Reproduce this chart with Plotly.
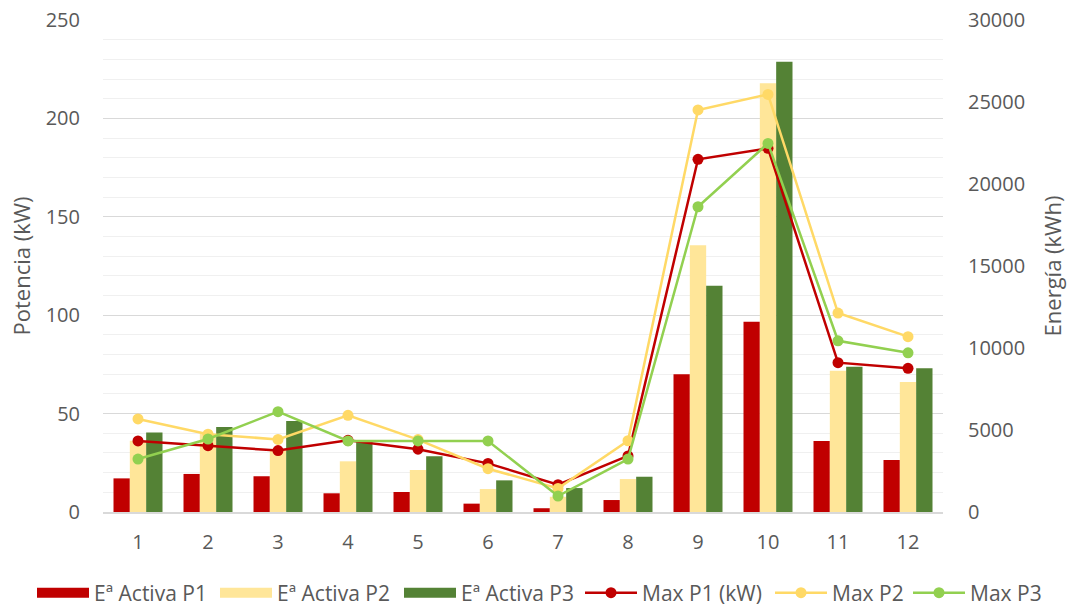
import plotly.graph_objects as go

months = ["1", "2", "3", "4", "5", "6", "7", "8", "9", "10", "11", "12"]

# energy per period (kWh) - right axis
energia_p1 = [2050, 2320, 2180, 1140, 1220, 510, 230, 730, 8400, 11600, 4330, 3170]
energia_p2 = [4350, 4750, 3800, 3090, 2560, 1400, 930, 2010, 16260, 26140, 8620, 7930]
energia_p3 = [4840, 5180, 5550, 4380, 3400, 1930, 1460, 2150, 13800, 27460, 8860, 8760]

# max power per period (kW) - left axis
max_p1 = [36.1, 33.7, 31.2, 36.4, 31.9, 24.7, 13.9, 28.5, 179.2, 184.8, 75.9, 73.0]
max_p2 = [47.3, 39.5, 36.9, 49.1, 36.8, 22.0, 12.0, 36.2, 204.3, 212.2, 101.1, 89.1]
max_p3 = [26.9, 37.1, 51.0, 36.1, 36.1, 36.1, 8.1, 26.9, 155.1, 187.3, 87.0, 80.9]

energy_ticks = [0, 5000, 10000, 15000, 20000, 25000, 30000]

TXT = "#595959"
FONT = "Open Sans"

bars = [
    ("Eª Activa P1", energia_p1, "#C00000"),
    ("Eª Activa P2", energia_p2, "#FFE699"),
    ("Eª Activa P3", energia_p3, "#548235"),
]
lines = [
    ("Max P1 (kW)", max_p1, "#C00000"),
    ("Max P2", max_p2, "#FFD966"),
    ("Max P3", max_p3, "#92D050"),
]

W, H = 1067, 607

# left edge (px) of each legend key; one legend per entry so spacing follows the original
legend_x = [37, 220, 404, 585, 775, 913]

fig = go.Figure()

for i, (name, vals, col) in enumerate(bars):
    fig.add_trace(go.Bar(x=months, y=vals, name=name, legendgroup=name, showlegend=False,
                         marker=dict(color=col, line_width=0), yaxis="y"))
    # legend-only entry so the key is a wide rectangle
    fig.add_trace(go.Scatter(x=[months[0]], y=[None], name=name, legendgroup=name, mode="lines",
                             line=dict(color=col, width=14), yaxis="y", hoverinfo="skip",
                             legend="legend" if i == 0 else f"legend{i + 1}"))

for i, (name, vals, col) in enumerate(lines):
    fig.add_trace(go.Scatter(
        x=months, y=vals, name=name, mode="lines+markers", yaxis="y2",
        line=dict(color=col, width=2.5), marker=dict(color=col, size=11),
        legend=f"legend{i + 4}",
    ))

leg_common = dict(
    orientation="h", xref="container", yref="container", xanchor="left",
    y=1 - 593 / H, yanchor="middle", font=dict(size=21, color=TXT, family=FONT),
    itemwidth=52, bgcolor="rgba(0,0,0,0)",
)
legends = {}
for i, px in enumerate(legend_x):
    key = "legend" if i == 0 else f"legend{i + 1}"
    legends[key] = dict(leg_common, x=(px - 5) / W)

fig.update_layout(
    width=W, height=H,
    margin=dict(l=103, r=124, t=20, b=95),
    paper_bgcolor="white", plot_bgcolor="white",
    barmode="group", bargap=0.3, bargroupgap=0,
    font=dict(family=FONT, color=TXT, size=20),
    xaxis=dict(
        type="category", range=[-0.5, 11.5], showgrid=False, showline=True,
        linecolor="#D9D9D9", linewidth=1.5,
        ticks="", tickfont=dict(size=20, color=TXT), ticklabelstandoff=11, automargin=False,
    ),
    yaxis=dict(
        side="right", range=[0, 30000], tickvals=energy_ticks, tickformat="d",
        showline=False, zeroline=False, showgrid=False, automargin=False,
        ticklabeloverflow="allow",
        tickfont=dict(size=20, color=TXT), ticklabelstandoff=24,
        title=dict(text="Energía (kWh)", font=dict(size=22, color=TXT), standoff=22),
    ),
    yaxis2=dict(
        side="left", overlaying="y", range=[0, 250], dtick=50,
        showgrid=True, gridcolor="#D9D9D9", gridwidth=1.2,
        minor=dict(dtick=10, showgrid=True, gridcolor="#F0F0F0", gridwidth=1),
        zeroline=False, showline=False, automargin=False,
        ticklabeloverflow="allow",
        tickfont=dict(size=20, color=TXT), ticklabelstandoff=22,
        title=dict(text="Potencia (kW)", font=dict(size=22, color=TXT), standoff=8),
    ),
    **legends,
)

# drop the default 8px body margin so the figure sits at the page corner
fig.write_html("out.html", config={"displayModeBar": False},
               post_script="document.body.style.margin = '0';")
